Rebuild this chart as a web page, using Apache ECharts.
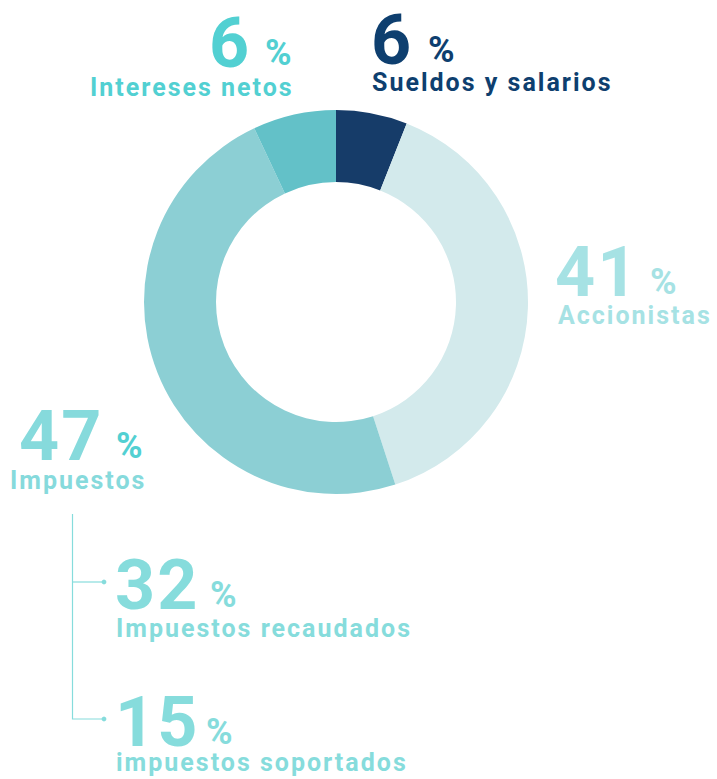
<!DOCTYPE html>
<html>
<head>
<meta charset="utf-8">
<script src="https://cdn.jsdelivr.net/npm/echarts@6/dist/echarts.min.js"></script>
<style>
  html, body { margin: 0; padding: 0; background: #fff; }
  #main { width: 717px; height: 779px; }
  /* the labels are set with open tracking */
  #main text { letter-spacing: 2px; }
</style>
</head>
<body>
<div id="main"></div>
<script>
// slices, clockwise from 12 o'clock
var categories = ['Sueldos y salarios', 'Accionistas', 'Impuestos', 'Intereses netos'];
var sliceShare = [6, 39, 48, 7];      // share of the ring as drawn
var labelPct = [6, 41, 47, 6];        // figures printed next to the ring
var sliceColors = ['#163c69', '#d3eaec', '#8ccfd4', '#63c1c8'];

// breakdown of Impuestos
var taxParts = ['Impuestos recaudados', 'impuestos soportados'];
var taxPct = [32, 15];

var myChart = echarts.init(document.getElementById('main'), null, { renderer: 'svg' });

var font = 'Roboto';

// y is the wanted centre of the capitals
function txt(x, y, s, size, color, lh) {
    return {
        type: 'text', x: x, y: y + 0.04 * size, silent: true,
        style: {
            text: s, fill: color, font: 'bold ' + size + 'px ' + font,
            lineHeight: lh, align: 'left', verticalAlign: 'middle'
        }
    };
}

// one callout block: big number, small %, name below
function callout(pos, num, name, cNum, cPct, cName) {
    return [
        txt(pos[0], pos[1], String(num), 70, cNum, 50),
        txt(pos[2], pos[1] + 12, '%', 36, cPct, 26),
        txt(pos[3], pos[4] - 2, name, 25, cName, 22)
    ];
}

var graphics = [];
// [numX, numCenterY, pctX, nameX, nameCenterY]
graphics = graphics.concat(callout([209, 40, 265, 90, 88], labelPct[3], categories[3], '#52d0d2', '#52d0d2', '#52d0d2'));
graphics = graphics.concat(callout([371, 37, 428, 372, 83], labelPct[0], categories[0], '#0e3f6f', '#0e3f6f', '#0e3f6f'));
graphics = graphics.concat(callout([555, 269, 650, 558, 316], labelPct[1], categories[1], '#a6e2e4', '#a6e2e4', '#a6e2e4'));
graphics = graphics.concat(callout([19, 433, 116, 10, 481], labelPct[2], categories[2], '#86dadc', '#52d0d2', '#86dadc'));
graphics = graphics.concat(callout([115, 582, 210, 116, 629], taxPct[0], taxParts[0], '#86dcdc', '#86dcdc', '#86dcdc'));
graphics = graphics.concat(callout([115, 719, 206, 116, 763], taxPct[1], taxParts[1], '#86dcdc', '#86dcdc', '#86dcdc'));

// bracket linking Impuestos to its parts
var lineColor = '#86dcdc';
graphics.push(
    { type: 'polyline', silent: true, shape: { points: [[72.5, 514], [72.5, 719], [104, 719]] },
      style: { stroke: lineColor, lineWidth: 1.2, fill: null } },
    { type: 'line', silent: true, shape: { x1: 72.5, y1: 582, x2: 104, y2: 582 },
      style: { stroke: lineColor, lineWidth: 1.2 } },
    { type: 'circle', silent: true, shape: { cx: 104, cy: 582, r: 2.4 }, style: { fill: lineColor } },
    { type: 'circle', silent: true, shape: { cx: 104, cy: 719, r: 2.4 }, style: { fill: lineColor } }
);

myChart.setOption({
    animation: false,
    backgroundColor: '#ffffff',
    series: [{
        type: 'pie',
        center: [336, 302],
        radius: [120, 192],
        startAngle: 90,
        clockwise: true,
        silent: true,
        label: { show: false },
        labelLine: { show: false },
        itemStyle: { borderWidth: 0 },
        data: categories.map(function (c, i) {
            return { name: c, value: sliceShare[i], itemStyle: { color: sliceColors[i] } };
        })
    }],
    graphic: graphics
});
</script>
</body>
</html>
